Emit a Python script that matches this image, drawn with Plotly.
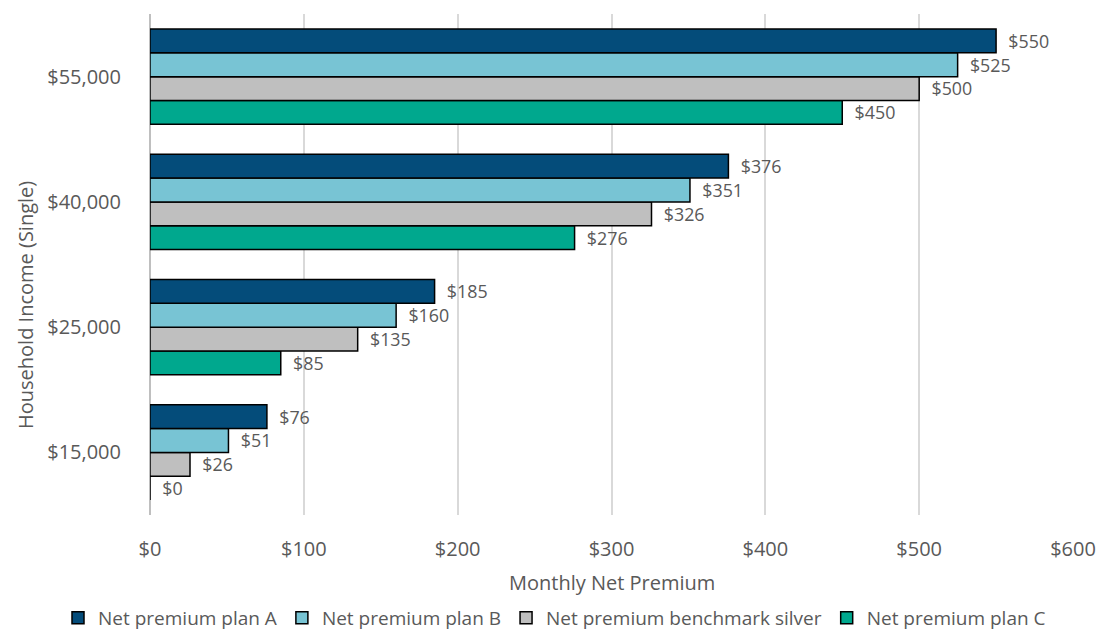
import plotly.graph_objects as go

categories = ["$15,000", "$25,000", "$40,000", "$55,000"]
plan_a = [76, 185, 376, 550]
plan_b = [51, 160, 351, 525]
silver = [26, 135, 326, 500]
plan_c = [0, 85, 276, 450]

series = [
    ("Net premium plan C", plan_c, "#00A88E"),
    ("Net premium benchmark silver", silver, "#BFBFBF"),
    ("Net premium plan B", plan_b, "#78C4D4"),
    ("Net premium plan A", plan_a, "#044C7A"),
]

FONT = "Open Sans"
GREY = "#595959"
PAD = "\u00a0\u00a0"

fig = go.Figure()
for name, vals, col in series:
    fig.add_trace(go.Bar(
        y=categories, x=vals, name=name, orientation="h",
        marker=dict(color=col, line=dict(color="#000000", width=1.5)),
        text=[PAD + "$" + str(v) for v in vals], textposition="outside",
        textfont=dict(family=FONT, size=18, color=GREY),
        cliponaxis=False,
    ))

fig.update_layout(
    width=1111, height=630,
    margin=dict(l=150, r=38, t=14, b=115, autoexpand=False),
    barmode="group", bargap=0.24, bargroupgap=0,
    plot_bgcolor="white", paper_bgcolor="white",
    font=dict(family=FONT, size=20, color=GREY),
    showlegend=True,
    legend=dict(orientation="h", xref="paper", yref="paper",
                x=(58 - 150) / 923, xanchor="left",
                y=-(618 - 515) / 501, yanchor="middle",
                traceorder="reversed", font=dict(size=19, color=GREY),
                itemwidth=30, tracegroupgap=0),
    xaxis=dict(range=[0, 600], dtick=100, tickprefix="$", showgrid=True,
               gridcolor="#D9D9D9", gridwidth=1.5, zeroline=True,
               zerolinecolor="#BFBFBF", zerolinewidth=1.5,
               ticklabelstandoff=20, automargin=False,
               tickfont=dict(size=20, color=GREY)),
    yaxis=dict(categoryorder="array", categoryarray=categories,
               showgrid=False, ticklabelstandoff=28, automargin=False,
               tickfont=dict(size=20, color=GREY)),
    annotations=[
        dict(text="Monthly Net Premium", xref="paper", yref="paper",
             x=0.5, y=-(582 - 515) / 501, xanchor="center", yanchor="middle",
             showarrow=False, font=dict(size=20, color=GREY)),
        dict(text="Household Income (Single)", xref="paper", yref="paper",
             x=-(150 - 25) / 923, y=(515 - 305) / 501, xanchor="center",
             yanchor="middle", textangle=-90, showarrow=False,
             font=dict(size=20, color=GREY)),
    ],
)

fig.write_html("out.html")
